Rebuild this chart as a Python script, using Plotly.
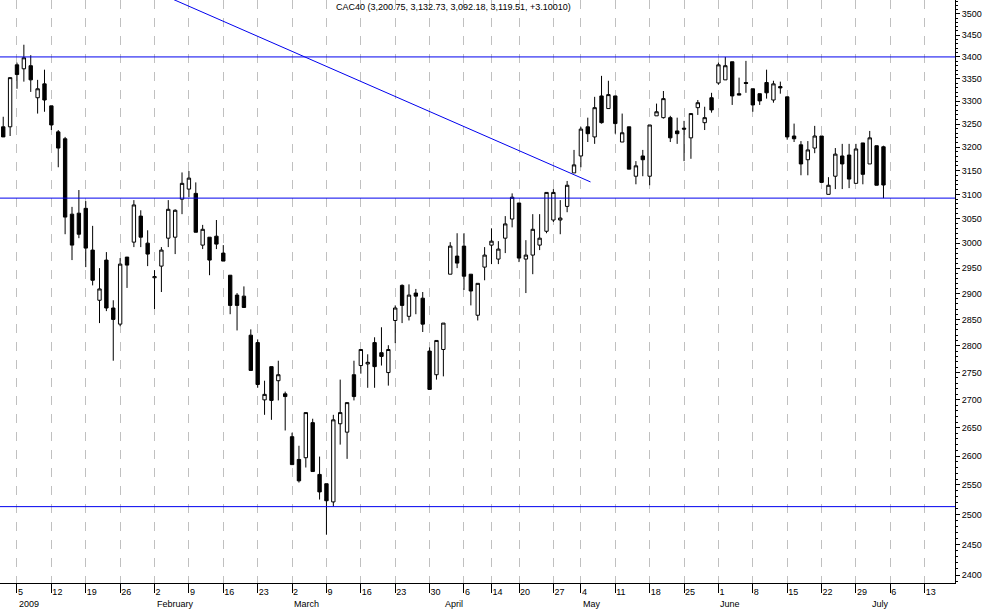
import pandas as pd
import plotly.graph_objects as go

# CAC40 daily prices, 31 Dec 2008 - 3 Jul 2009
opens = [3244, 3244, 3382, 3373, 3380, 3308, 3339, 3290, 3233, 3218,
         3059, 3061, 3071, 2986, 2887, 2966, 2872, 2841, 2972, 3002,
         3055, 3000, 2931, 2954, 3010, 3012, 3090, 3111, 3102, 2996,
         3012, 3014, 2980, 2936, 2897, 2895, 2820, 2806, 2700, 2761,
         2735, 2711, 2634, 2594, 2597, 2659, 2568, 2552, 2521, 2657,
         2642, 2746, 2763, 2766, 2806, 2787, 2750, 2848, 2916, 2856,
         2901, 2891, 2790, 2746, 2793, 2938, 2974, 2994, 2938, 2858,
         2952, 2996, 2968, 3010, 3049, 3082, 2968, 2976, 2996, 3024,
         3047, 3047, 3075, 3145, 3181, 3244, 3222, 3312, 3284, 3312,
         3211, 3244, 3138, 3181, 3138, 3268, 3264, 3264, 3235, 3241,
         3220, 3286, 3253, 3308, 3341, 3348, 3389, 3317, 3342, 3328,
         3317, 3342, 3303, 3333, 3310, 3224, 3205, 3173, 3198, 3224,
         3100, 3138, 3181, 3183, 3123, 3209, 3164, 3203, 3200.75]
highs = [3266, 3353, 3387, 3428, 3404, 3348, 3371, 3290, 3237, 3222,
         3074, 3109, 3086, 3035, 2950, 2982, 2887, 2970, 2972, 3088,
         3067, 3026, 2946, 2992, 3088, 3069, 3146, 3149, 3125, 3037,
         3012, 3047, 2996, 2936, 2901, 2914, 2831, 2812, 2735, 2761,
         2772, 2715, 2641, 2618, 2677, 2666, 2599, 2552, 2673, 2737,
         2695, 2772, 2793, 2784, 2816, 2835, 2801, 2877, 2918, 2918,
         2909, 2903, 2797, 2810, 2843, 3002, 3020, 3020, 2938, 2920,
         2992, 3030, 3004, 3055, 3102, 3082, 3006, 3059, 3059, 3104,
         3111, 3088, 3128, 3194, 3244, 3264, 3310, 3357, 3346, 3312,
         3273, 3244, 3170, 3194, 3248, 3295, 3323, 3268, 3264, 3257,
         3273, 3303, 3288, 3319, 3387, 3400, 3389, 3353, 3391, 3328,
         3317, 3371, 3346, 3344, 3310, 3251, 3213, 3213, 3246, 3224,
         3136, 3198, 3207, 3207, 3207, 3209, 3235, 3203, 3203]
lows = [3222, 3224, 3328, 3344, 3321, 3273, 3277, 3237, 3157, 3018,
        2966, 3010, 2952, 2916, 2843, 2866, 2772, 2837, 2911, 2992,
        2992, 2954, 2870, 2903, 2992, 2978, 3059, 3094, 3022, 2988,
        2936, 2988, 2964, 2860, 2829, 2873, 2754, 2722, 2673, 2664,
        2699, 2645, 2585, 2554, 2580, 2573, 2525, 2466, 2513, 2620,
        2595, 2699, 2748, 2722, 2722, 2763, 2726, 2805, 2843, 2848,
        2860, 2826, 2719, 2737, 2743, 2938, 2950, 2907, 2877, 2848,
        2926, 2958, 2958, 2980, 3032, 2962, 2901, 2938, 2986, 3020,
        3043, 3018, 3063, 3145, 3157, 3211, 3207, 3251, 3284, 3229,
        3211, 3153, 3121, 3138, 3119, 3268, 3262, 3211, 3207, 3170,
        3175, 3270, 3237, 3275, 3337, 3348, 3292, 3314, 3319, 3277,
        3292, 3306, 3297, 3317, 3216, 3211, 3140, 3140, 3187, 3125,
        3100, 3111, 3111, 3113, 3123, 3121, 3164, 3119, 3092.18]
closes = [3222, 3353, 3360, 3398, 3348, 3328, 3303, 3248, 3198, 3053,
          2996, 3018, 2990, 2926, 2909, 2872, 2850, 2958, 2956, 3078,
          3012, 2978, 2933, 2986, 3069, 3067, 3123, 3134, 3022, 3028,
          2966, 2998, 2964, 2877, 2877, 2873, 2754, 2728, 2710, 2699,
          2746, 2706, 2585, 2557, 2677, 2573, 2538, 2523, 2664, 2677,
          2695, 2706, 2793, 2769, 2761, 2780, 2793, 2872, 2877, 2897,
          2895, 2841, 2719, 2810, 2843, 2994, 2960, 2934, 2905, 2920,
          2976, 3004, 2988, 3039, 3094, 2970, 2976, 3028, 3010, 3104,
          3104, 3051, 3119, 3162, 3239, 3229, 3286, 3253, 3315, 3251,
          3231, 3153, 3160, 3173, 3248, 3277, 3306, 3220, 3229, 3239,
          3273, 3297, 3264, 3281, 3382, 3380, 3312, 3314, 3340, 3292,
          3301, 3319, 3339, 3330, 3222, 3218, 3164, 3194, 3224, 3125,
          3119, 3185, 3164, 3132, 3196, 3142, 3220, 3119, 3119.51]

support_levels = [3400, 3092.18, 2513]
trend_start = 3540   # value where the falling line leaves the top
trend_end = 3126
y_ticks = list(range(2400, 3501, 50))
months = ['2009', 'February', 'March', 'April', 'May', 'June', 'July']
title_text = 'CAC40 (3,200.75, 3,132.73, 3,092.18, 3,119.51, +3.10010)'

# trading calendar (Paris holidays removed)
holidays = pd.to_datetime(['2009-01-01', '2009-04-10', '2009-04-13', '2009-05-01'])
days = pd.bdate_range('2008-12-31', '2009-07-24')
days = days[~days.isin(holidays)]
idx = list(range(len(days)))
n = len(opens)

# weekly ticks at first trading day of each week
tickvals, ticktext = [], []
for i, d in enumerate(days):
    if i > 0 and d.isocalendar().week != days[i - 1].isocalendar().week:
        tickvals.append(i)
        ticktext.append(str(d.day))
# year label under the first week, then each month's first trading day
month_pos = [tickvals[0]]
for i, d in enumerate(days):
    if i > 0 and d.month != days[i - 1].month and d.month > 1:
        month_pos.append(i)

fig = go.Figure()
fig.add_trace(go.Candlestick(
    x=idx[:n], open=opens, high=highs, low=lows, close=closes,
    increasing=dict(line=dict(color='black', width=1), fillcolor='white'),
    decreasing=dict(line=dict(color='black', width=1), fillcolor='black'),
    whiskerwidth=0, hoverinfo='skip', showlegend=False))

for lvl in support_levels:
    fig.add_trace(go.Scatter(x=[-5, 150], y=[lvl, lvl], mode='lines',
                             line=dict(color='#0000ee', width=1),
                             hoverinfo='skip', showlegend=False))
fig.add_trace(go.Scatter(x=[23.9, 85.4], y=[trend_start, trend_end], mode='lines',
                         line=dict(color='#0000ee', width=1),
                         hoverinfo='skip', showlegend=False))

for name, pos in zip(months, month_pos):
    fig.add_annotation(x=pos, y=-0.024, xref='x', yref='paper', text=name,
                       showarrow=False, xanchor='left', yanchor='top', xshift=0,
                       font=dict(size=9, color='black'))
fig.add_annotation(x=0.475, y=1.0, xref='paper', yref='paper', text=title_text,
                   showarrow=False, yanchor='top', font=dict(size=9, color='black'))

fig.update_layout(
    width=994, height=610, margin=dict(l=0, r=39, t=0, b=27),
    plot_bgcolor='white', paper_bgcolor='white',
    font=dict(family='Liberation Sans, Arial', size=9, color='black'),
    xaxis=dict(range=[-0.47, 138.4], rangeslider=dict(visible=False), automargin=False,
               tickvals=tickvals, ticktext=ticktext, ticks='outside', ticklen=9,
               ticklabelposition='outside right', tickcolor='black',
               showgrid=True, gridcolor='#c0c0c0', griddash='dash', gridwidth=1,
               showline=True, linecolor='black', zeroline=False),
    yaxis=dict(type='log', side='right', range=[3.3779, 3.5481], automargin=False,
               tickvals=y_ticks, ticks='outside', ticklen=4, tickcolor='black',
               minor=dict(ticks='outside', ticklen=2,
                          tickvals=list(range(2390, 3531, 10)), tickcolor='black'),
               showgrid=False, showline=True, linecolor='black', zeroline=False),
)

fig.write_html('out.html', config={'displayModeBar': False},
               post_script="document.body.style.margin='0';")
